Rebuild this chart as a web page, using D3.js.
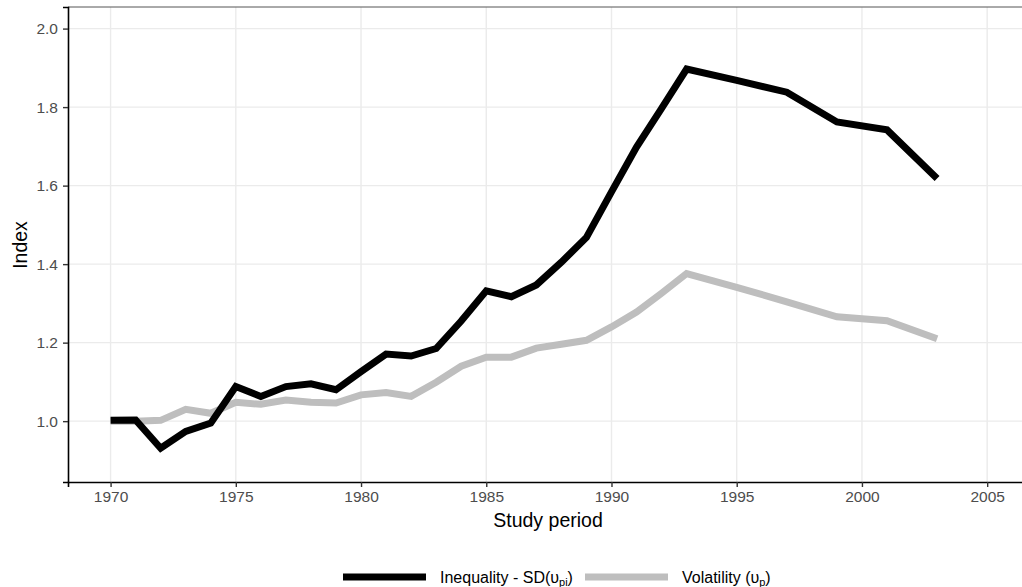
<!doctype html>
<html>
<head>
<meta charset="utf-8" />
<title>Index over study period</title>
<script src="https://d3js.org/d3.v7.min.js"></script>
<style>
	body { margin: 0; background: #fff; font-family: "Liberation Sans", Arial, Helvetica, sans-serif; }
	svg { display: block; }
	.grid line { stroke: #ebebeb; stroke-width: 1.4; }
</style>
</head>
<body>
<div id="app"></div>
<script>
// values
const years = [1970, 1971, 1972, 1973, 1974, 1975, 1976, 1977, 1978, 1979,
	1980, 1981, 1982, 1983, 1984, 1985, 1986, 1987, 1988, 1989,
	1990, 1991, 1992, 1993, 1995, 1997, 1999, 2001, 2003];
const inequality = [1.002, 1.003, 0.931, 0.974, 0.995, 1.088, 1.063, 1.088, 1.095, 1.080,
	1.126, 1.171, 1.166, 1.185, 1.255, 1.332, 1.317, 1.347, 1.405, 1.468,
	1.584, 1.698, 1.797, 1.897, 1.868, 1.838, 1.762, 1.742, 1.618];
const volatility = [1.000, 1.000, 1.002, 1.030, 1.020, 1.048, 1.043, 1.054, 1.048, 1.046,
	1.067, 1.073, 1.063, 1.099, 1.140, 1.163, 1.163, 1.186, 1.196, 1.206,
	1.240, 1.278, 1.326, 1.376, 1.341, 1.304, 1.266, 1.256, 1.210];
const xTicks = [1970, 1975, 1980, 1985, 1990, 1995, 2000, 2005];
const yTicks = [1.0, 1.2, 1.4, 1.6, 1.8, 2.0];
const seriesNames = ['Inequality - SD', 'Volatility'];
const seriesColors = ['#000000', '#bebebe'];

const W = 1022, H = 587;
const padL = 68, padT = 7, padB = 482, padR = 1031;
const fontFam = '"Liberation Sans", Arial, Helvetica, sans-serif';

const svg = d3.select('#app').append('svg').attr('width', W).attr('height', H);

const x = d3.scaleLinear().domain([1968.3, 2006.75]).range([padL, padR]);
const y = d3.scaleLinear().domain([0.845, 2.055]).range([padB, padT]);

// gridlines
const grid = svg.append('g').attr('class', 'grid');
grid.selectAll('.gx').data(xTicks).join('line')
	.attr('x1', d => x(d)).attr('x2', d => x(d)).attr('y1', padT).attr('y2', padB);
grid.selectAll('.gy').data(yTicks).join('line')
	.attr('y1', d => y(d)).attr('y2', d => y(d)).attr('x1', padL).attr('x2', padR);

// lines, grey drawn first so black sits on top
const series = [inequality, volatility];
const line = d3.line().x((d, i) => x(years[i])).y(d => y(d));
svg.append('g').selectAll('path')
	.data([1, 0])
	.join('path')
	.attr('d', k => line(series[k]))
	.attr('fill', 'none')
	.attr('stroke', k => seriesColors[k])
	.attr('stroke-width', 7)
	.attr('stroke-linejoin', 'miter');

// panel top border
svg.append('line').attr('x1', padL).attr('x2', padR).attr('y1', padT).attr('y2', padT)
	.attr('stroke', '#555').attr('stroke-width', 1);

// axes
function styleAxis(g) {
	g.attr('font-family', fontFam).attr('font-size', 15.5);
	g.select('.domain').attr('stroke', '#000').attr('stroke-width', 1.6);
	g.selectAll('.tick line').attr('stroke', '#333').attr('stroke-width', 1.4);
	g.selectAll('.tick text').attr('fill', '#4d4d4d');
}
const xAxis = svg.append('g').attr('transform', `translate(0,${padB})`)
	.call(d3.axisBottom(x).tickValues(xTicks).tickFormat(d3.format('d')).tickSize(5).tickPadding(4));
styleAxis(xAxis);

const yAxis = svg.append('g').attr('transform', `translate(${padL},0)`)
	.call(d3.axisLeft(y).tickValues(yTicks).tickFormat(d3.format('.1f')).tickSize(5).tickPadding(5));
styleAxis(yAxis);

// axis titles
svg.append('text').attr('x', 548).attr('y', 527).attr('text-anchor', 'middle')
	.attr('font-size', 19.5).attr('fill', '#000').text('Study period');
svg.append('text').attr('transform', 'translate(27,245) rotate(-90)').attr('text-anchor', 'middle')
	.attr('font-size', 19.5).attr('fill', '#000').text('Index');

// legend
const legend = svg.append('g');
const keyX = [343, 585];
const subs = ['pi', 'p'];
seriesNames.forEach((name, i) => {
	legend.append('line').attr('x1', keyX[i]).attr('x2', keyX[i] + 83)
		.attr('y1', 577).attr('y2', 577)
		.attr('stroke', seriesColors[i]).attr('stroke-width', 7);
	const t = legend.append('text').attr('x', keyX[i] + 97).attr('y', 583)
		.attr('font-size', 16).attr('fill', '#000');
	t.append('tspan').text(name + (i === 0 ? '(' : ' (') + '\u03c5');
	t.append('tspan').attr('font-size', 11).attr('dy', 3).text(subs[i]);
	t.append('tspan').attr('dy', -3).text(')');
});
</script>
</body>
</html>
